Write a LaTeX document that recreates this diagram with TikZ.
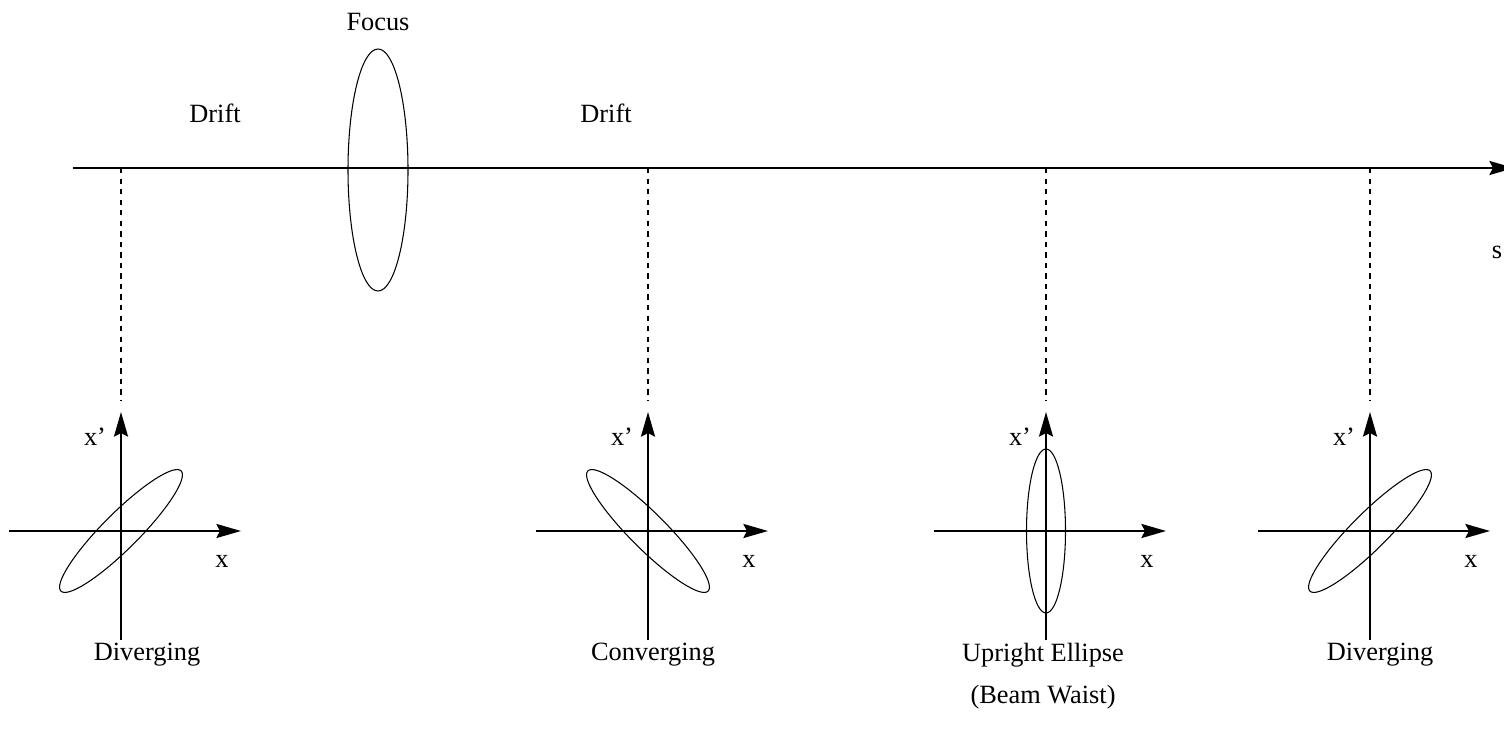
\documentclass[tikz,border=0pt]{standalone}
\usepackage{fontspec}
\setmainfont{Liberation Serif}
\usetikzlibrary{arrows.meta, calc}

\tikzset{
  axisline/.style={line width=1.1pt, -{Stealth[length=14pt,width=8pt,inset=2pt]}},
  guideline/.style={dashed, line width=0.6pt},
  orbit/.style={line width=0.6pt},
  lbl/.style={font=\fontsize{15}{18}\selectfont, inner sep=0pt}
}

\begin{document}
\begin{tikzpicture}[x=0.02cm, y=-0.02cm]
    \useasboundingbox (0,0) rectangle (1504,742);
    % beam line and lens
    \coordinate (s0) at (73,168);
    \coordinate (s1) at (1514,168);
    \draw[axisline] (s0) -- (s1);
    \node[lbl] (slbl) at (1497,252) {s};
    \coordinate (lens) at (378,170);
    \draw[orbit] (lens) ellipse [x radius=30, y radius=121];
    \node[lbl] (focus) at (378,22) {Focus};
    \node[lbl] (drift1) at (215,113) {Drift};
    \node[lbl] (drift2) at (606,113) {Drift};
    % phase space plots
    \foreach \i/\cx/\ang/\ra/\rb in {1/121/45/85/18, 2/648/-45/85/18, 3/1046/90/82/19.5, 4/1370/45/85/18}{
        \coordinate (o\i) at (\cx,531);
        \coordinate (top\i) at (\cx,168);
        \coordinate (bot\i) at (\cx,400);
        \draw[guideline] (top\i) -- (bot\i);
        \draw[axisline] ($(o\i)+(-112,0)$) -- ($(o\i)+(120,0)$);
        \draw[axisline] ($(o\i)+(0,109)$) -- ($(o\i)+(0,-119)$);
        \draw[orbit, rotate around={\ang:(o\i)}] (o\i) ellipse [x radius=\ra, y radius=\rb];
        \node[lbl] (xp\i) at ($(o\i)+(-26,-94)$) {x'};
        \node[lbl] (x\i) at ($(o\i)+(101,30)$) {x};
    }
    \node[lbl] (div1) at (147,655) {Diverging};
    \node[lbl] (conv) at (653,655) {Converging};
    \node[lbl] (upr) at (1043,655) {Upright Ellipse};
    \node[lbl] (waist) at (1043,697) {(Beam Waist)};
    \node[lbl] (div2) at (1380,655) {Diverging};
\end{tikzpicture}
\end{document}
